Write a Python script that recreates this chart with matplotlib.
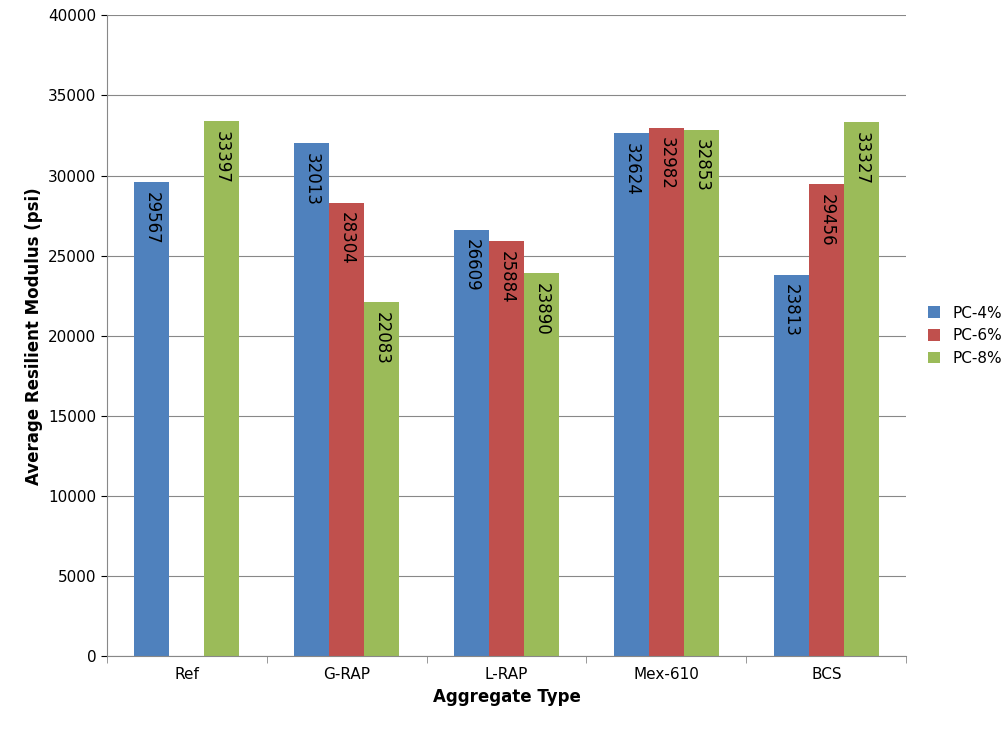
import matplotlib
matplotlib.use("Agg")
import matplotlib.pyplot as plt
import numpy as np

categories = ["Ref", "G-RAP", "L-RAP", "Mex-610", "BCS"]
pc4 = [29567, 32013, 26609, 32624, 23813]
pc6 = [np.nan, 28304, 25884, 32982, 29456]
pc8 = [33397, 22083, 23890, 32853, 33327]
series = [("PC-4%", pc4, "#4F81BD"), ("PC-6%", pc6, "#C0504D"), ("PC-8%", pc8, "#9BBB59")]

fig = plt.figure(figsize=(10.07, 7.29), dpi=100)
ax = fig.add_axes([0.106, 0.100, 0.794, 0.879])
x = np.arange(len(categories))
w = 0.22
for i, (name, vals, col) in enumerate(series):
    pos = x + (i - 1) * w
    ax.bar(pos, vals, w, color=col, label=name, zorder=2)
    for p, v in zip(pos, vals):
        if np.isnan(v):
            continue
        ax.text(p, v - 600, str(v), rotation=270, ha="center", va="top",
                fontsize=12, color="black", zorder=3)

ax.set_xlim(-0.5, len(categories) - 0.5)
ax.set_ylim(0, 40000)
ax.set_yticks(range(0, 40001, 5000))
ax.set_xticks(x)
ax.set_xticklabels(categories, fontsize=11)
ax.tick_params(axis="y", labelsize=11, length=4)
ax.set_xticks(np.arange(-0.5, len(categories), 1), minor=True)
ax.tick_params(axis="x", which="major", length=0, pad=8)
ax.tick_params(axis="x", which="minor", length=5, color="#888888")
ax.grid(axis="y", color="#888888", linewidth=0.8, zorder=0)
for s in ["top", "right"]:
    ax.spines[s].set_visible(False)
for s in ["left", "bottom"]:
    ax.spines[s].set_color("#888888")
ax.set_ylabel("Average Resilient Modulus (psi)", fontsize=12, fontweight="bold")
ax.set_xlabel("Aggregate Type", fontsize=12, fontweight="bold")
ax.legend(loc="center left", bbox_to_anchor=(1.01, 0.5), frameon=False, fontsize=11,
          handlelength=0.8, handleheight=0.8)
fig.savefig("out.png", dpi=100)
